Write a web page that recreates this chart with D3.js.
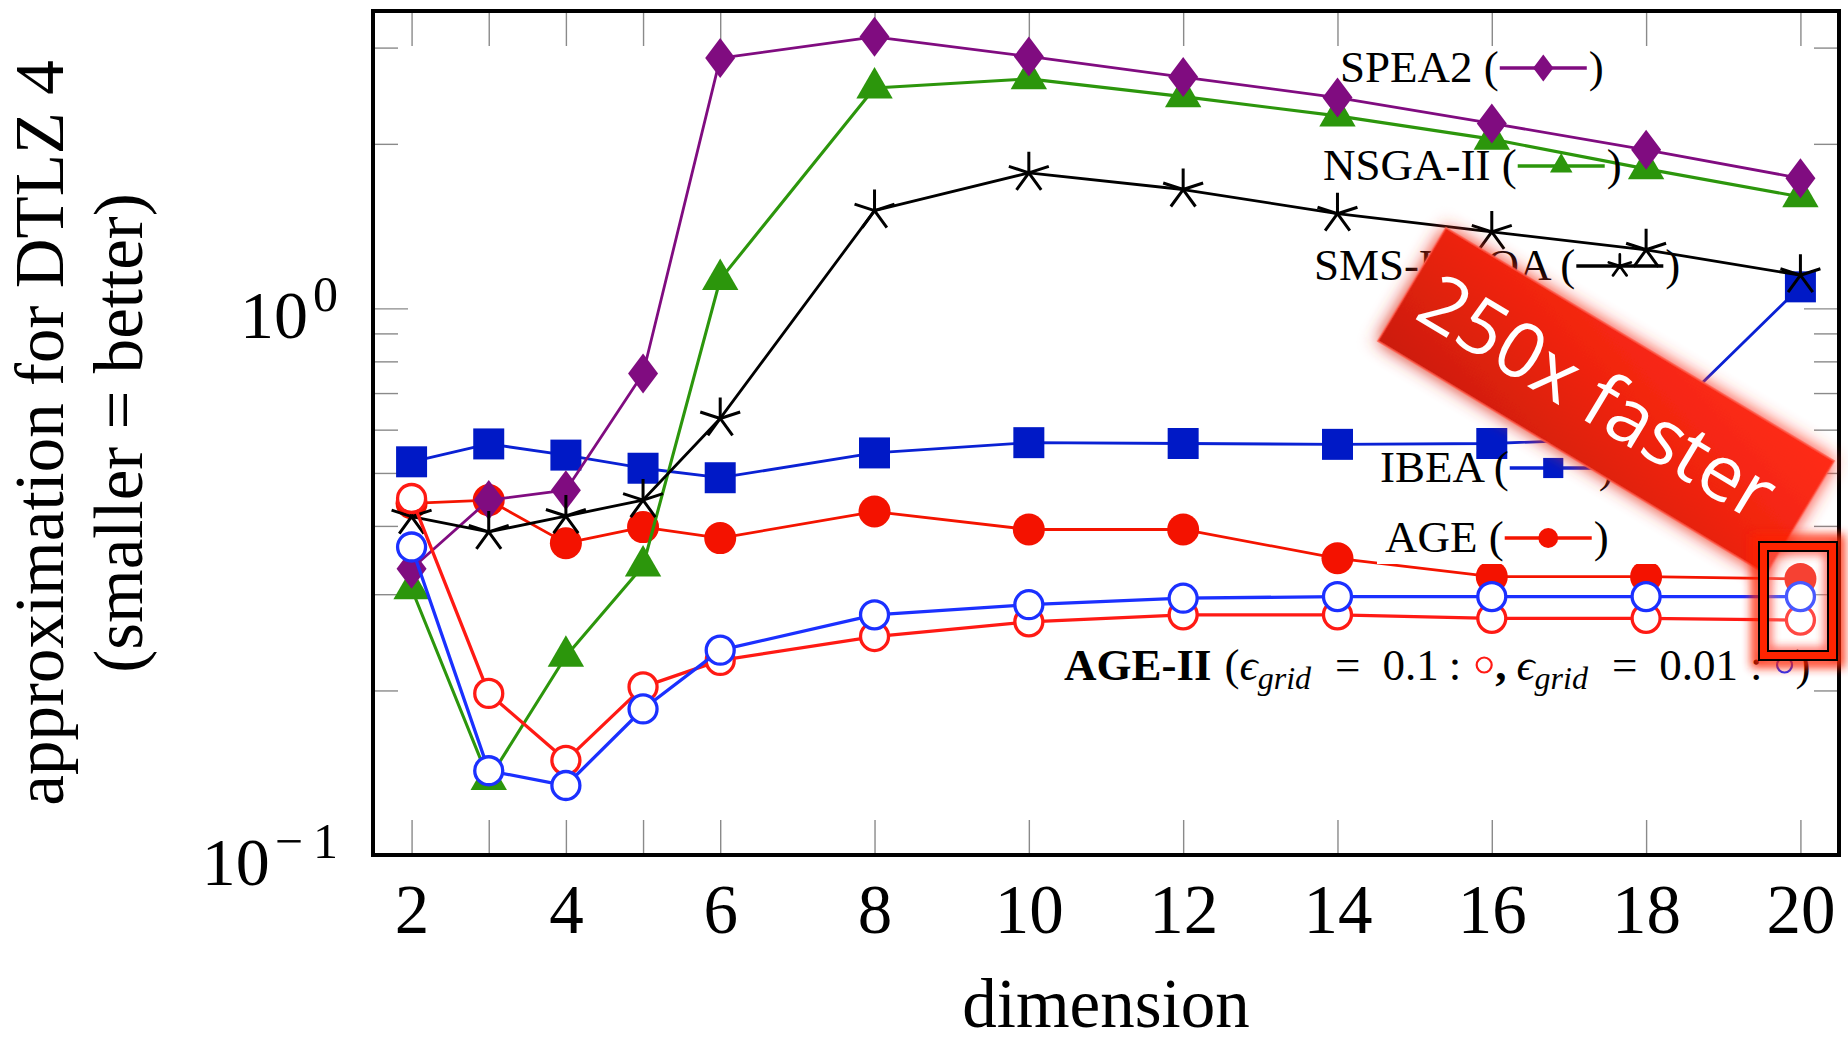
<!DOCTYPE html>
<html>
<head>
<meta charset="utf-8">
<script src="https://cdn.jsdelivr.net/npm/d3@7"></script>
<style>
  body { margin: 0; background: #fff; }
  svg { display: block; font-family: "Liberation Serif", "DejaVu Serif", serif; }
</style>
</head>
<body>
<svg id="chart" width="1848" height="1041"></svg>
<script>
// values (DTLZ 4, log y axis)
const dims = [2, 3, 4, 5, 6, 8, 10, 12, 14, 16, 18, 20];
const spea2 = [0.334, 0.446, 0.465, 0.760, 2.87, 3.14, 2.89, 2.65, 2.43, 2.18, 1.95, 1.73];
const nsga2 = [0.307, 0.1375, 0.231, 0.338, 1.13, 2.53, 2.63, 2.44, 2.25, 2.04, 1.80, 1.60];
const smsemoa = [0.416, 0.390, 0.417, 0.446, 0.629, 1.51, 1.77, 1.65, 1.49, 1.38, 1.28, 1.15];
const ibea = [0.524, 0.565, 0.539, 0.510, 0.490, 0.544, 0.568, 0.566, 0.564, 0.566, 0.58, 1.095];
const age = [0.44, 0.446, 0.372, 0.398, 0.380, 0.425, 0.394, 0.394, 0.349, 0.323, 0.323, 0.320];
const age2coarse = [0.449, 0.1975, 0.149, 0.203, 0.227, 0.251, 0.267, 0.275, 0.275, 0.271, 0.271, 0.269];
const age2fine = [0.366, 0.1426, 0.134, 0.185, 0.237, 0.275, 0.287, 0.295, 0.297, 0.297, 0.297, 0.297];

const xTicks = [2, 3, 4, 5, 6, 8, 10, 12, 14, 16, 18, 20];
const xLabels = ['2', '', '4', '', '6', '8', '10', '12', '14', '16', '18', '20'];
const yTicks = [0.1, 0.2, 0.3, 0.4, 0.5, 0.6, 0.7, 0.8, 0.9, 1, 2, 3];
const yMajor = [0.1, 1];
const yTickBase = ['10', '10'];
const yTickExp = ['\u2212\u20091', '0'];

const svg = d3.select('#chart');
const width = +svg.attr('width');
const height = +svg.attr('height');
const margin = { top: 11, right: 9, bottom: 186, left: 373 };
const tickColor = '#8a8a8a';

const x = d3.scaleLinear()
  .domain([1.5, 20.5])
  .range([margin.left, width - margin.right]);

const y = d3.scaleLog()
  .domain([0.1, 3.5])
  .range([height - margin.bottom, margin.top]);

const defs = svg.append('defs');

const grad = defs.append('linearGradient')
  .attr('id', 'bannerGrad')
  .attr('x1', 0).attr('y1', 1).attr('x2', 1).attr('y2', 0);
grad.append('stop').attr('offset', '0%').attr('stop-color', '#cc1d0d');
grad.append('stop').attr('offset', '55%').attr('stop-color', '#f0240f');
grad.append('stop').attr('offset', '100%').attr('stop-color', '#ff2c18');

const glow = defs.append('filter').attr('id', 'glow')
  .attr('x', '-20%').attr('y', '-30%').attr('width', '140%').attr('height', '160%');
glow.append('feGaussianBlur').attr('in', 'SourceGraphic').attr('stdDeviation', 9).attr('result', 'b');
const gm = glow.append('feMerge');
gm.append('feMergeNode').attr('in', 'b');
gm.append('feMergeNode').attr('in', 'SourceGraphic');

const soft = defs.append('filter').attr('id', 'soft')
  .attr('x', '-50%').attr('y', '-50%').attr('width', '200%').attr('height', '200%');
soft.append('feGaussianBlur').attr('stdDeviation', 5);

// ---- axes ----
const xAxis = svg.append('g')
  .attr('class', 'x-axis')
  .attr('transform', `translate(0, ${y.range()[0]})`)
  .call(d3.axisBottom(x).tickValues(xTicks).tickFormat((d, i) => xLabels[i])
    .tickSizeInner(-35).tickSizeOuter(0).tickPadding(29));
xAxis.select('.domain').remove();
xAxis.selectAll('.tick line').attr('stroke', tickColor).attr('stroke-width', 1.4);
xAxis.selectAll('.tick text')
  .attr('font-size', 69).attr('fill', '#000')
  .attr('font-family', '"Liberation Serif", serif');

const xTop = svg.append('g')
  .attr('transform', `translate(0, ${y.range()[1]})`)
  .call(d3.axisTop(x).tickValues(xTicks).tickFormat(() => '').tickSizeInner(-35).tickSizeOuter(0));
xTop.select('.domain').remove();
xTop.selectAll('.tick line').attr('stroke', tickColor).attr('stroke-width', 1.4);

const yAxis = svg.append('g')
  .attr('class', 'y-axis')
  .attr('transform', `translate(${x.range()[0]}, 0)`)
  .call(d3.axisLeft(y).tickValues(yTicks).tickFormat(() => '')
    .tickSizeInner(-25).tickSizeOuter(0).tickPadding(35));
yAxis.select('.domain').remove();
yAxis.selectAll('.tick line')
  .attr('x2', d => yMajor.includes(d) ? 35 : 25)
  .attr('stroke', tickColor).attr('stroke-width', 1.4);
yAxis.selectAll('.tick text').each(function (d) {
  const i = yMajor.indexOf(d);
  if (i < 0) return;
  const t = d3.select(this).attr('dy', null).text(null)
    .attr('font-size', 68).attr('fill', '#000')
    .attr('font-family', '"Liberation Serif", serif');
  t.append('tspan').attr('dy', 29).text(yTickBase[i]);
  t.append('tspan').attr('dy', -27).attr('dx', 5).attr('font-size', 50).text(yTickExp[i]);
});

const yRight = svg.append('g')
  .attr('transform', `translate(${x.range()[1]}, 0)`)
  .call(d3.axisRight(y).tickValues(yTicks).tickFormat(() => '').tickSizeInner(-25).tickSizeOuter(0));
yRight.select('.domain').remove();
yRight.selectAll('.tick line')
  .attr('x2', d => yMajor.includes(d) ? -35 : -25)
  .attr('stroke', tickColor).attr('stroke-width', 1.4);

// axis titles
svg.append('text')
  .attr('x', (x.range()[0] + x.range()[1]) / 2)
  .attr('y', 1027)
  .attr('text-anchor', 'middle')
  .attr('font-size', 69)
  .text('dimension');

const yMid = (y.range()[0] + y.range()[1]) / 2;
svg.append('text')
  .attr('transform', `translate(63, ${yMid}) rotate(-90)`)
  .attr('text-anchor', 'middle')
  .attr('font-size', 69)
  .text('approximation for DTLZ 4');
svg.append('text')
  .attr('transform', `translate(142, ${yMid}) rotate(-90)`)
  .attr('text-anchor', 'middle')
  .attr('font-size', 69)
  .text('(smaller = better)');

// ---- markers ----
function markerPath(type, s) {
  if (type === 'diamond') return `M0,${-20 * s}L${15 * s},0L0,${20 * s}L${-15 * s},0Z`;
  if (type === 'triangle') {
    const r = 21 * s;
    return `M0,${-r}L${0.866 * r},${r / 2}L${-0.866 * r},${r / 2}Z`;
  }
  if (type === 'square') {
    const h = 15.5 * s;
    return `M${-h},${-h}h${2 * h}v${2 * h}h${-2 * h}Z`;
  }
  if (type === 'star') {
    const r = 21 * s;
    return d3.range(5).map(i => {
      const a = (-90 + 72 * i) * Math.PI / 180;
      return `M0,0L${r * Math.cos(a)},${r * Math.sin(a)}`;
    }).join('');
  }
  // circles
  const r = (type === 'dot' ? 16 : 14) * s;
  return `M${r},0A${r},${r} 0 1,1 ${-r},0A${r},${r} 0 1,1 ${r},0Z`;
}

const series = [
  { key: 'ibea', values: ibea, line: '#0a21d4', lw: 2.8, marker: 'square', fill: '#0019c6', stroke: 'none', sw: 0, ls: 0.65 },
  { key: 'age', values: age, line: '#f41400', lw: 2.8, marker: 'dot', fill: '#f41200', stroke: 'none', sw: 0, ls: 0.62 },
  { key: 'nsga2', values: nsga2, line: '#2c960c', lw: 3.1, marker: 'triangle', fill: '#2c960c', stroke: 'none', sw: 0, ls: 0.62 },
  { key: 'spea2', values: spea2, line: '#800c80', lw: 2.8, marker: 'diamond', fill: '#800c80', stroke: 'none', sw: 0, ls: 0.68 },
  { key: 'smsemoa', values: smsemoa, line: '#000', lw: 2.8, marker: 'star', fill: 'none', stroke: '#000', sw: 3, ls: 0.55 },
  { key: 'age2coarse', values: age2coarse, line: '#ff1a14', lw: 3.3, marker: 'ring', fill: '#fff', stroke: '#ff1a14', sw: 3.3, ls: 0.6 },
  { key: 'age2fine', values: age2fine, line: '#1b30ff', lw: 3.3, marker: 'ring', fill: '#fff', stroke: '#1b30ff', sw: 3.3, ls: 0.6 }
];
const byKey = {};
series.forEach(s => { byKey[s.key] = s; });

const line = d3.line()
  .x((d, i) => x(dims[i]))
  .y(d => y(d));

const plot = svg.append('g').attr('class', 'plot');

function drawMarker(g, s, cx, cy, scale, sw) {
  g.append('path')
    .attr('transform', `translate(${cx},${cy})`)
    .attr('d', markerPath(s.marker, scale))
    .attr('fill', s.fill)
    .attr('stroke', s.stroke)
    .attr('stroke-width', sw)
    .attr('stroke-linecap', 'round');
}

series.forEach(s => {
  const g = plot.append('g').attr('class', s.key);
  g.append('path')
    .attr('d', line(s.values))
    .attr('fill', 'none')
    .attr('stroke', s.line)
    .attr('stroke-width', s.lw)
    .attr('stroke-linejoin', 'round');
  g.selectAll('path.m')
    .data(s.values)
    .enter().append('path')
    .attr('class', 'm')
    .attr('transform', (d, i) => `translate(${x(dims[i])},${y(d)})`)
    .attr('d', markerPath(s.marker, 1))
    .attr('fill', s.fill)
    .attr('stroke', s.stroke)
    .attr('stroke-width', s.sw);
  if (s.key === 'age') {
    // the AGE legend node has a white background that clips the line
    plot.append('rect')
      .attr('x', 1377).attr('y', 512).attr('width', 320).attr('height', 52)
      .attr('fill', '#fff');
  }
});

// plot frame
svg.append('rect')
  .attr('x', x.range()[0]).attr('y', y.range()[1])
  .attr('width', x.range()[1] - x.range()[0])
  .attr('height', y.range()[0] - y.range()[1])
  .attr('fill', 'none').attr('stroke', '#000').attr('stroke-width', 4);

// ---- legend entries ----
const legendItems = [
  { label: 'SPEA2', key: 'spea2', x: 1340, y: 82 },
  { label: 'NSGA-II', key: 'nsga2', x: 1323, y: 180 },
  { label: 'SMS-EMOA', key: 'smsemoa', x: 1314, y: 280 },
  { label: 'IBEA', key: 'ibea', x: 1380, y: 482 },
  { label: 'AGE', key: 'age', x: 1385, y: 552 }
];

const legend = svg.append('g').attr('class', 'legend');
legendItems.forEach(item => {
  const s = byKey[item.key];
  const t = legend.append('text')
    .attr('x', item.x).attr('y', item.y)
    .attr('font-size', 45)
    .text(item.label + ' (');
  const x0 = item.x + t.node().getComputedTextLength() + 1;
  const ly = item.y - 14;
  legend.append('line')
    .attr('x1', x0).attr('x2', x0 + 87)
    .attr('y1', ly).attr('y2', ly)
    .attr('stroke', s.line).attr('stroke-width', 3.6);
  drawMarker(legend, s, x0 + 43.5, ly, s.ls, s.sw ? s.sw * 0.9 : 0);
  legend.append('text')
    .attr('x', x0 + 89).attr('y', item.y)
    .attr('font-size', 45)
    .text(')');
});

// AGE-II entry, built piece by piece (gap = space before the piece)
const agePieces = [
  { t: 'AGE-II', w: 'bold', gap: 0 },
  { t: '(', gap: 13 },
  { t: '\u03F5', i: true, gap: 0 },
  { t: 'grid', i: true, sub: true, gap: 0 },
  { t: '=', gap: 24 },
  { t: '0.1', gap: 22 },
  { t: ':', gap: 10 },
  { dot: 'age2coarse', gap: 14 },
  { t: ',', w: 'bold', gap: 0 },
  { t: '\u03F5', i: true, gap: 10 },
  { t: 'grid', i: true, sub: true, gap: 0 },
  { t: '=', gap: 24 },
  { t: '0.01', gap: 22 },
  { t: ':', gap: 12 },
  { dot: 'age2fine', gap: 13 },
  { t: ')', gap: 0 }
];
let cx = 1064;
const ageY = 680;
agePieces.forEach(p => {
  cx += p.gap;
  if (p.dot) {
    const s = byKey[p.dot];
    legend.append('circle')
      .attr('cx', cx + 9).attr('cy', ageY - 15).attr('r', 7.5)
      .attr('fill', 'none').attr('stroke', s.stroke).attr('stroke-width', 2.2);
    cx += 20;
    return;
  }
  const t = legend.append('text')
    .attr('x', cx).attr('y', p.sub ? ageY + 9 : ageY)
    .attr('font-size', p.sub ? 32 : 45)
    .attr('font-weight', p.w || 'normal')
    .attr('font-style', p.i ? 'italic' : 'normal')
    .text(p.t);
  cx += t.node().getComputedTextLength();
});

// ---- "250x faster" banner ----
const banner = svg.append('g')
  .attr('transform', 'translate(1606, 401) rotate(31)');
banner.append('rect')
  .attr('x', -226.5).attr('y', -66).attr('width', 453).attr('height', 132)
  .attr('fill', 'url(#bannerGrad)')
  .attr('stroke', '#ff5a48').attr('stroke-width', 1.5)
  .attr('filter', 'url(#glow)');
banner.append('text')
  .attr('x', -9).attr('y', 0).attr('dy', '0.36em')
  .attr('text-anchor', 'middle')
  .attr('font-family', '"Open Sans", "Noto Sans", sans-serif')
  .attr('font-size', 77)
  .attr('fill', '#fff')
  .text('250x faster');

// ---- highlight box around dimension 20 ----
const hb = { x: 1759, y: 542, w: 78, h: 118, inset: 9 };
const hi = { x: hb.x + hb.inset, y: hb.y + hb.inset, w: hb.w - 2 * hb.inset, h: hb.h - 2 * hb.inset };
const hl = svg.append('g').attr('class', 'highlight');
hl.append('rect')
  .attr('x', hb.x - 2).attr('y', hb.y - 2).attr('width', hb.w + 4).attr('height', hb.h + 4)
  .attr('fill', 'none').attr('stroke', '#ff2200').attr('stroke-width', 12)
  .attr('opacity', 0.85).attr('filter', 'url(#soft)');
hl.append('path')
  .attr('d', `M${hb.x},${hb.y}h${hb.w}v${hb.h}h${-hb.w}Z M${hi.x},${hi.y}v${hi.h}h${hi.w}v${-hi.h}Z`)
  .attr('fill', '#ff2400').attr('fill-rule', 'evenodd')
  .attr('stroke', '#000').attr('stroke-width', 2);
defs.append('clipPath').attr('id', 'innerClip')
  .append('rect').attr('x', hi.x).attr('y', hi.y).attr('width', hi.w).attr('height', hi.h);
const inner = hl.append('g').attr('clip-path', 'url(#innerClip)');
inner.append('rect')
  .attr('x', hi.x).attr('y', hi.y).attr('width', hi.w).attr('height', hi.h)
  .attr('fill', '#fff').attr('opacity', 0.2);
inner.append('rect')
  .attr('x', hi.x).attr('y', hi.y).attr('width', hi.w).attr('height', hi.h)
  .attr('fill', 'none').attr('stroke', '#ff3a2a').attr('stroke-width', 6)
  .attr('filter', 'url(#soft)');
hl.append('rect')
  .attr('x', hi.x).attr('y', hi.y).attr('width', hi.w).attr('height', hi.h)
  .attr('fill', 'none').attr('stroke', '#000').attr('stroke-width', 2);
</script>
</body>
</html>
